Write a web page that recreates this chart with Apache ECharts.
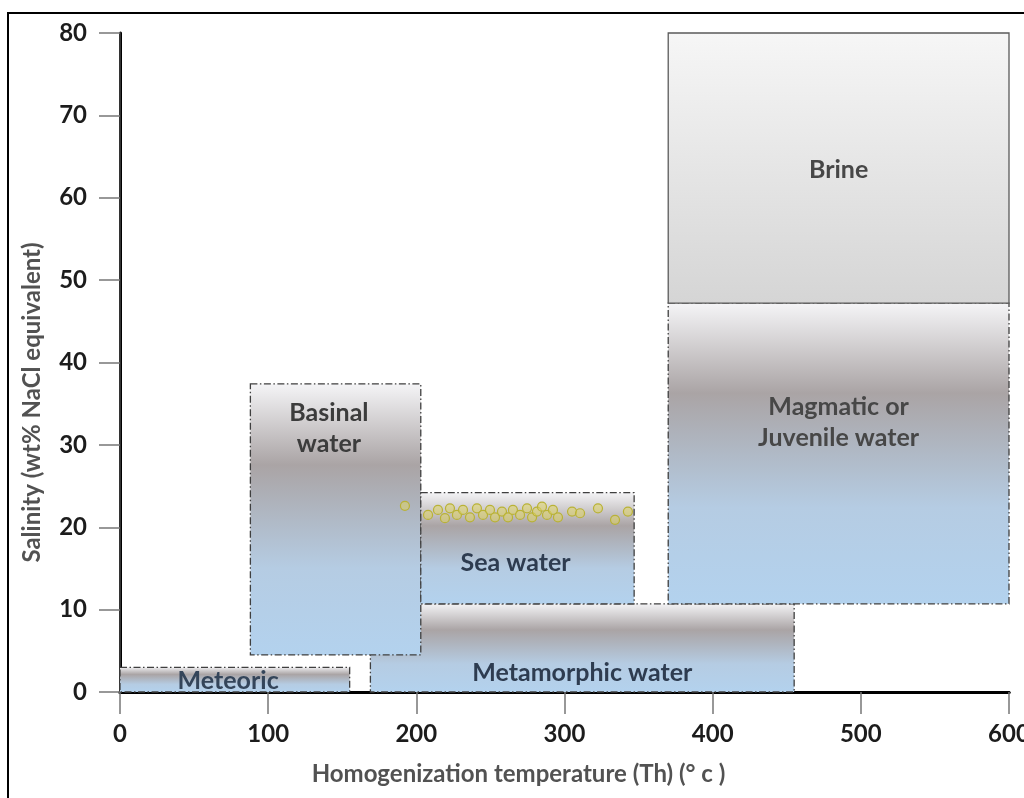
<!DOCTYPE html>
<html>
<head>
<meta charset="utf-8">
<script src="https://cdn.jsdelivr.net/npm/echarts@6/dist/echarts.min.js"></script>
<style>
html,body{margin:0;padding:0;background:#fff;}
#chart{width:1024px;height:798px;}
</style>
</head>
<body>
<div id="chart"></div>
<script>
// ---- data ----
const regionNames = ['Metamorphic water', 'Meteoric', 'Basinal\nwater', 'Sea water', 'Magmatic or\nJuvenile water', 'Brine'];
const tempMin = [169, 0, 88, 203, 370, 370];
const tempMax = [455, 155, 203, 347, 600, 600];
const salMin  = [0, 0, 4.5, 10.7, 10.7, 47.2];
const salMax  = [10.7, 3.0, 37.4, 24.2, 47.2, 80];
const labelTemp = [312, 73, 141, 267, 485, 485];
const labelSal  = [2.3, 1.3, 32.0, 15.7, 32.7, 63.4];

const inclusionTemp = [192.3, 207.9, 214.6, 219.3, 222.7, 227.4, 231.5, 236.2, 240.9, 245.0, 249.7, 253.1, 257.8, 261.9, 265.2, 270.0, 274.7, 278.1, 281.4, 284.8, 288.2, 292.2, 295.6, 305.1, 310.5, 322.6, 334.1, 342.8];
const inclusionSal  = [22.6, 21.5, 22.1, 21.1, 22.3, 21.5, 22.1, 21.2, 22.3, 21.5, 22.1, 21.2, 21.9, 21.2, 22.1, 21.5, 22.3, 21.2, 21.9, 22.5, 21.5, 22.1, 21.2, 21.9, 21.7, 22.3, 20.9, 21.9];

const xTicks = [0, 100, 200, 300, 400, 500, 600];
const yTicks = [0, 10, 20, 30, 40, 50, 60, 70, 80];

// ---- build ----
const regionData = regionNames.map((n, i) => [tempMin[i], tempMax[i], salMin[i], salMax[i], labelTemp[i], labelSal[i], n]);
const inclusionData = inclusionTemp.map((t, i) => [t, inclusionSal[i]]);

const FONT = 'Lato';
const waterGradient = () => new echarts.graphic.LinearGradient(0, 0, 0, 1, [
  {offset: 0, color: '#f5f5f7'},
  {offset: 0.3, color: '#aaa4a5'},
  {offset: 0.68, color: '#b5cce3'},
  {offset: 1, color: '#b3d2ee'}
]);
const brineGradient = () => new echarts.graphic.LinearGradient(0, 0, 0, 1, [
  {offset: 0, color: '#f6f6f6'},
  {offset: 1, color: '#d5d5d5'}
]);
const labelColors = {
  'Brine': '#474747',
  'Magmatic or\nJuvenile water': '#474747',
  'Basinal\nwater': '#3c3c3c',
  'Sea water': '#2e3c50',
  'Metamorphic water': '#2e3c50',
  'Meteoric': '#34455a'
};

const chart = echarts.init(document.getElementById('chart'), null, {renderer: 'canvas'});
chart.setOption({
  animation: false,
  backgroundColor: '#fff',
  graphic: [{
    type: 'rect', z: 0, silent: true,
    shape: {x: 8, y: 13, width: 1100, height: 900},
    style: {fill: 'none', stroke: '#000', lineWidth: 2}
  }],
  grid: {left: 120, right: 15, top: 33, bottom: 106, containLabel: false, outerBoundsMode: 'none'},
  xAxis: [{
    type: 'value', min: 0, max: 600, interval: 100, position: 'bottom',
    name: 'Homogenization temperature (Th) (\u00b0 c )',
    nameLocation: 'middle', nameGap: 70, nameMoveOverlap: false,
    nameTextStyle: {fontFamily: FONT, fontWeight: 'bold', fontSize: 24, color: '#525252', padding: [0, 92, 0, 0]},
    axisLine: {show: true, lineStyle: {color: '#000', width: 3}},
    axisTick: {show: true, length: 22, lineStyle: {color: '#777', width: 1.5}},
    axisLabel: {margin: 30, fontFamily: FONT, fontWeight: 'bold', fontSize: 24, color: '#1c1c1c',
      formatter: v => xTicks.includes(v) ? String(v) : ''},
    splitLine: {show: false}
  }, {
    type: 'value', min: 0, max: 600, position: 'top',
    axisLine: {show: true, lineStyle: {color: '#000', width: 3}},
    axisTick: {show: false}, axisLabel: {show: false}, splitLine: {show: false}
  }],
  yAxis: [{
    type: 'value', min: 0, max: 80, interval: 10, position: 'left',
    name: 'Salinity (wt% NaCl equivalent)',
    nameLocation: 'middle', nameGap: 76,
    nameTextStyle: {fontFamily: FONT, fontWeight: 'bold', fontSize: 24, color: '#525252', padding: [0, 80, 0, 0]},
    axisLine: {show: true, lineStyle: {color: '#000', width: 3}},
    axisTick: {show: true, length: 21, lineStyle: {color: '#777', width: 1.5}},
    axisLabel: {margin: 33, fontFamily: FONT, fontWeight: 'bold', fontSize: 24, color: '#1c1c1c',
      formatter: v => yTicks.includes(v) ? String(v) : ''},
    splitLine: {show: false}
  }, {
    type: 'value', min: 0, max: 80, position: 'right',
    axisLine: {show: true, lineStyle: {color: '#333', width: 2}},
    axisTick: {show: false}, axisLabel: {show: false}, splitLine: {show: false}
  }],
  series: [{
    type: 'custom',
    xAxisIndex: 0, yAxisIndex: 0,
    data: regionData,
    encode: {x: [0, 1, 4], y: [2, 3, 5]},
    z: 2,
    renderItem: function (params, api) {
      const name = regionData[params.dataIndex][6];
      const tl = api.coord([api.value(0), api.value(3)]);
      const br = api.coord([api.value(1), api.value(2)]);
      const lp = api.coord([api.value(4), api.value(5)]);
      const isBrine = name === 'Brine';
      return {
        type: 'group',
        children: [{
          type: 'rect',
          shape: {x: tl[0], y: tl[1], width: br[0] - tl[0], height: br[1] - tl[1]},
          style: {
            fill: isBrine ? brineGradient() : waterGradient(),
            stroke: isBrine ? '#5a5a5a' : '#3f3f3f',
            lineWidth: 1.3,
            lineDash: isBrine ? null : [7, 2.5, 1.5, 2.5]
          }
        }, {
          type: 'text',
          z2: 10,
          style: {
            text: name,
            x: lp[0], y: lp[1],
            align: 'center', verticalAlign: 'middle',
            fontFamily: FONT, fontWeight: 'bold', fontSize: 25, lineHeight: 31,
            fill: labelColors[name]
          }
        }]
      };
    }
  }, {
    type: 'scatter',
    xAxisIndex: 0, yAxisIndex: 0,
    data: inclusionData,
    z: 5,
    symbol: 'circle', symbolSize: 9,
    itemStyle: {color: 'rgba(222,212,100,0.55)', borderColor: '#b9b236', borderWidth: 1.2, opacity: 1}
  }]
});
</script>
</body>
</html>
